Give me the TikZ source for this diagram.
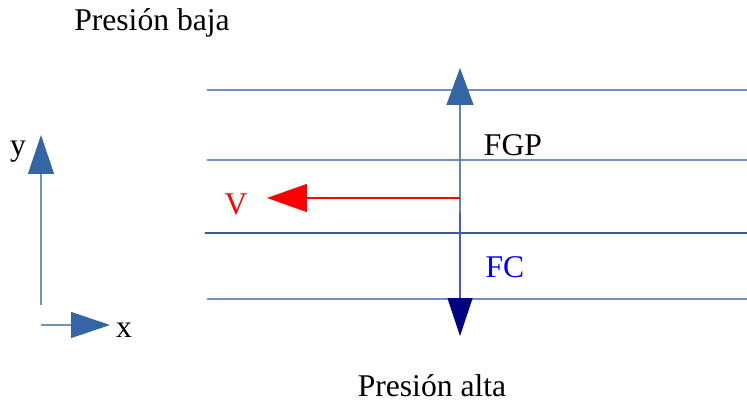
\documentclass[tikz,border=0pt]{standalone}
\usepackage{fontspec}
\setmainfont{Liberation Serif}
\usetikzlibrary{arrows.meta}
\definecolor{axisblue}{HTML}{3465A4}
\definecolor{lineblue}{HTML}{7290C4}
\definecolor{darkline}{HTML}{3C5A8A}
\begin{document}
\begin{tikzpicture}[x=0.02cm, y=-0.02cm, font=\fontsize{18}{22}\selectfont,
    isobar/.style={draw=lineblue, line width=0.6pt},
    force/.style={line width=0.7pt, -{Triangle[length=0.74cm, width=0.54cm]}},
    axis/.style={draw=axisblue!70, line width=0.7pt,
      -{Triangle[length=0.78cm, width=0.52cm, color=axisblue]}},
    lbl/.style={inner sep=0pt, anchor=base}]
  \useasboundingbox (0,0) rectangle (747,406);
  \node[lbl] (baja) at (152, 30) {Presión baja};
  \node[lbl] (alta) at (432, 396) {Presión alta};
  \coordinate (l1w) at (207, 90);  \coordinate (l1e) at (747, 90);
  \coordinate (l2w) at (207, 160); \coordinate (l2e) at (747, 160);
  \coordinate (l3w) at (205, 233); \coordinate (l3e) at (747, 233);
  \coordinate (l4w) at (207, 299); \coordinate (l4e) at (747, 299);
  \draw[isobar] (l1w) -- (l1e);
  \draw[isobar] (l2w) -- (l2e);
  \draw[isobar, draw=darkline] (l3w) -- (l3e);
  \draw[isobar] (l4w) -- (l4e);
  \coordinate (origen) at (460, 213);
  \coordinate (fgp) at (460, 68);
  \coordinate (fc) at (460, 336);
  \coordinate (vel) at (267, 198);
  \coordinate (vstart) at (460, 198);
  \draw[force, draw=axisblue!80, -{Triangle[length=0.74cm, width=0.54cm, color=axisblue]}]
    (origen) -- (fgp);
  \draw[force, draw=lineblue!60!blue, -{Triangle[length=0.76cm, width=0.5cm, color=blue!50!black]}]
    (origen) -- (fc);
  \draw[force, red, -{Triangle[length=0.8cm, width=0.56cm]}] (vstart) -- (vel);
  \node[lbl, red] (v) at (236, 214) {V};
  \node[lbl] (fgplbl) at (513, 155) {FGP};
  \node[lbl, blue] (fclbl) at (505, 277) {FC};
  \coordinate (o) at (41, 305);
  \coordinate (ytip) at (41, 135);
  \coordinate (ox) at (41, 325);
  \coordinate (xtip) at (110, 325);
  \draw[axis] (o) -- (ytip);
  \draw[axis] (ox) -- (xtip);
  \node[lbl] (ylbl) at (18, 155) {y};
  \node[lbl] (xlbl) at (124, 337) {x};
\end{tikzpicture}
\end{document}
